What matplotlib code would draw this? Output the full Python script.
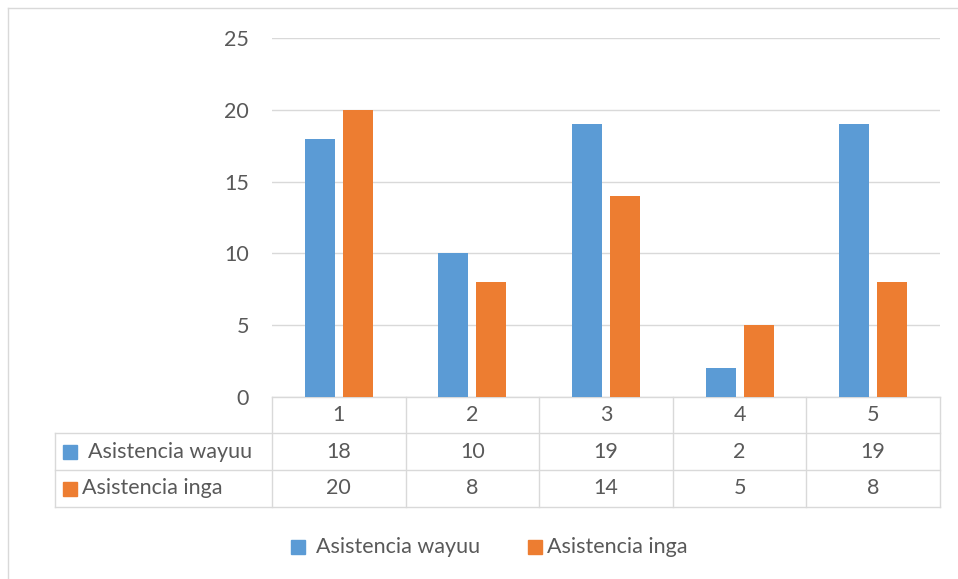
import numpy as np
import matplotlib
matplotlib.use("Agg")
import matplotlib.pyplot as plt
from matplotlib.lines import Line2D
from matplotlib.patches import Rectangle

plt.rcParams['font.family'] = ['Lato', 'DejaVu Sans']

categories = ["1", "2", "3", "4", "5"]
wayuu = [18, 10, 19, 2, 19]
inga = [20, 8, 14, 5, 8]
series_names = ["Asistencia wayuu", "Asistencia inga"]
colors = ["#5b9bd5", "#ed7d31"]
yticks = [0, 5, 10, 15, 20, 25]

W, H = 958, 579
grey = "#d9d9d9"
txt = "#595959"
fs = 15.5

fig = plt.figure(figsize=(W / 100, H / 100), dpi=100)

def fx(px):
    return px / W

def fy(py):
    return 1 - py / H

# outer chart border
fig.add_artist(Line2D([fx(8), fx(8)], [fy(8), fy(579)], color=grey, lw=1))
fig.add_artist(Line2D([fx(8), fx(958)], [fy(8), fy(8)], color=grey, lw=1))

ax = fig.add_axes([fx(272), fy(397), fx(940) - fx(272), fy(38) - fy(397)])
x = np.arange(len(categories))
bw = 0.225
off = 0.142
ax.bar(x - off, wayuu, bw, color=colors[0], zorder=3)
ax.bar(x + off, inga, bw, color=colors[1], zorder=3)
ax.set_xlim(-0.5, len(categories) - 0.5)
ax.set_ylim(0, 25)
ax.set_yticks(yticks)
ax.set_yticklabels([str(t) for t in yticks], fontsize=fs, color=txt)
ax.tick_params(axis='y', length=0, pad=16.5)
ax.set_xticks([])
ax.yaxis.grid(True, color=grey, lw=1)
ax.set_axisbelow(True)
for s in ax.spines.values():
    s.set_visible(False)

# data table below the plot
ax_h = 397 - 38
def ay(py):
    return -(py - 397) / ax_h

tr = ax.get_xaxis_transform()
rows = [397, 433, 470, 507]
left_x = -0.5 - (272 - 55) / 133.6
right_x = len(categories) - 0.5
ax.add_line(Line2D([-0.5, right_x], [0, 0], transform=tr, color=grey, lw=1, clip_on=False))
for r in rows[1:]:
    ax.add_line(Line2D([left_x, right_x], [ay(r)] * 2, transform=tr, color=grey, lw=1, clip_on=False))
for b in np.arange(len(categories) + 1) - 0.5:
    ax.add_line(Line2D([b, b], [0, ay(rows[-1])], transform=tr, color=grey, lw=1, clip_on=False))
ax.add_line(Line2D([left_x, left_x], [ay(rows[1]), ay(rows[-1])], transform=tr, color=grey, lw=1, clip_on=False))

for i, c in enumerate(categories):
    ax.text(i, ay((rows[0] + rows[1]) / 2), c, transform=tr, ha='center', va='center', fontsize=fs, color=txt)
    ax.text(i, ay((rows[1] + rows[2]) / 2), str(wayuu[i]), transform=tr, ha='center', va='center', fontsize=fs, color=txt)
    ax.text(i, ay((rows[2] + rows[3]) / 2), str(inga[i]), transform=tr, ha='center', va='center', fontsize=fs, color=txt)

# row labels with colour keys
sq = 14
for k, (name, col, tx) in enumerate(zip(series_names, colors, [88, 82])):
    cy = (rows[k + 1] + rows[k + 2]) / 2
    fig.add_artist(Rectangle((fx(63), fy(cy + sq / 2)), fx(sq), sq / H, color=col))
    fig.text(fx(tx), fy(cy), name, ha='left', va='center', fontsize=fs, color=txt)

# legend at bottom
leg_y = 547
for name, col, sx, tx in zip(series_names, colors, [291, 528], [316, 547]):
    fig.add_artist(Rectangle((fx(sx), fy(leg_y + sq / 2)), fx(sq), sq / H, color=col))
    fig.text(fx(tx), fy(leg_y), name, ha='left', va='center', fontsize=fs, color=txt)

fig.savefig("out.png", dpi=100)
